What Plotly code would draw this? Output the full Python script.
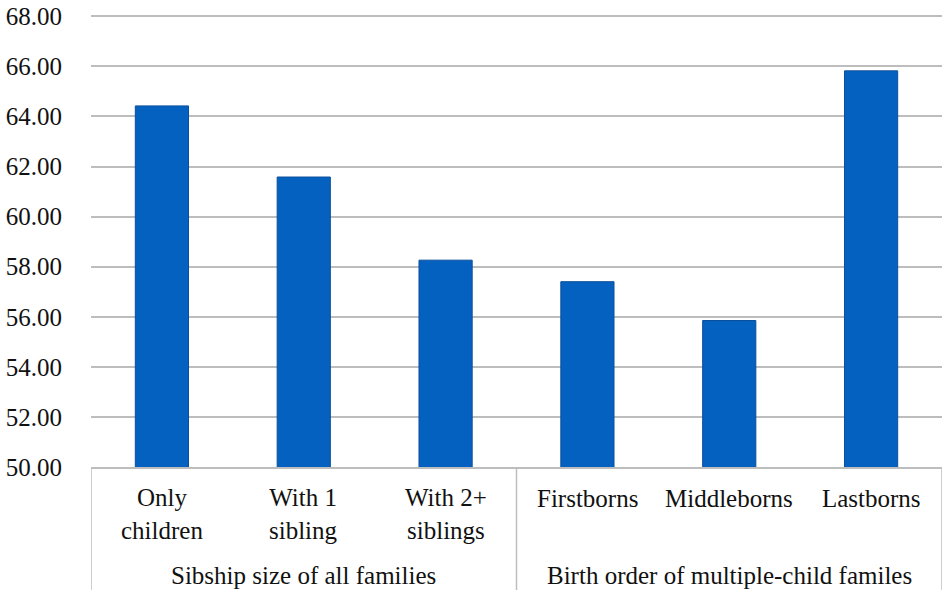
import plotly.graph_objects as go

groups = ["Sibship size of all families", "Birth order of multiple-child familes"]
group_members = [3, 3]
categories = ["Only<br>children", "With 1<br>sibling", "With 2+<br>siblings",
              "Firstborns", "Middleborns", "Lastborns"]
values = [64.42, 61.58, 58.26, 57.40, 55.85, 65.82]
y_ticks = [50, 52, 54, 56, 58, 60, 62, 64, 66, 68]

fig = go.Figure(go.Bar(
    x=list(range(len(categories))),
    y=values,
    marker=dict(color="#0561BF", line=dict(color="#0B4F9C", width=1)),
    width=0.375,
))

font = dict(family="Liberation Serif", size=25, color="#111111")
grid = "#BDBDBD"
W, H = 950, 597
L, R, T, B = 91, 8, 15, 130
plot_h = H - T - B
div_bottom = -123 / plot_h

fig.update_layout(
    width=W, height=H,
    margin=dict(l=L, r=R, t=T, b=B),
    plot_bgcolor="white", paper_bgcolor="white",
    font=font,
    showlegend=False,
)
fig.update_yaxes(
    range=[50, 68.05], tickvals=y_ticks, tickformat=".2f",
    showgrid=True, gridcolor=grid, gridwidth=1.5,
    zeroline=False, showline=False, ticklabelstandoff=28, tickfont=font,
    automargin=False,
)
fig.update_xaxes(
    range=[-0.5, len(categories) - 0.5],
    showline=True, linecolor=grid, linewidth=1.5,
    showticklabels=False, showgrid=False, zeroline=False, automargin=False,
)

# category labels
for i, cat in enumerate(categories):
    n_lines = len(cat.split("<br>"))
    fig.add_annotation(x=i, xref="x", y=0, yref="paper", text=cat,
                       showarrow=False, yanchor="middle",
                       yshift=-31 - 16 * (n_lines - 1), font=font)

# group labels and dividers
start = 0
bounds = [-0.5]
for g, n in zip(groups, group_members):
    fig.add_annotation(x=start + (n - 1) / 2, xref="x", y=0, yref="paper", text=g,
                       showarrow=False, yanchor="middle", yshift=-108, font=font)
    start += n
    bounds.append(start - 0.5)
for b in bounds:
    fig.add_shape(type="line", xref="x", yref="paper", x0=b, x1=b, y0=0, y1=div_bottom,
                  line=dict(color=grid, width=1.5))

fig.write_html("out.html",
               config={"displayModeBar": False},
               post_script="document.body.style.margin='0';document.body.style.overflow='hidden';")
